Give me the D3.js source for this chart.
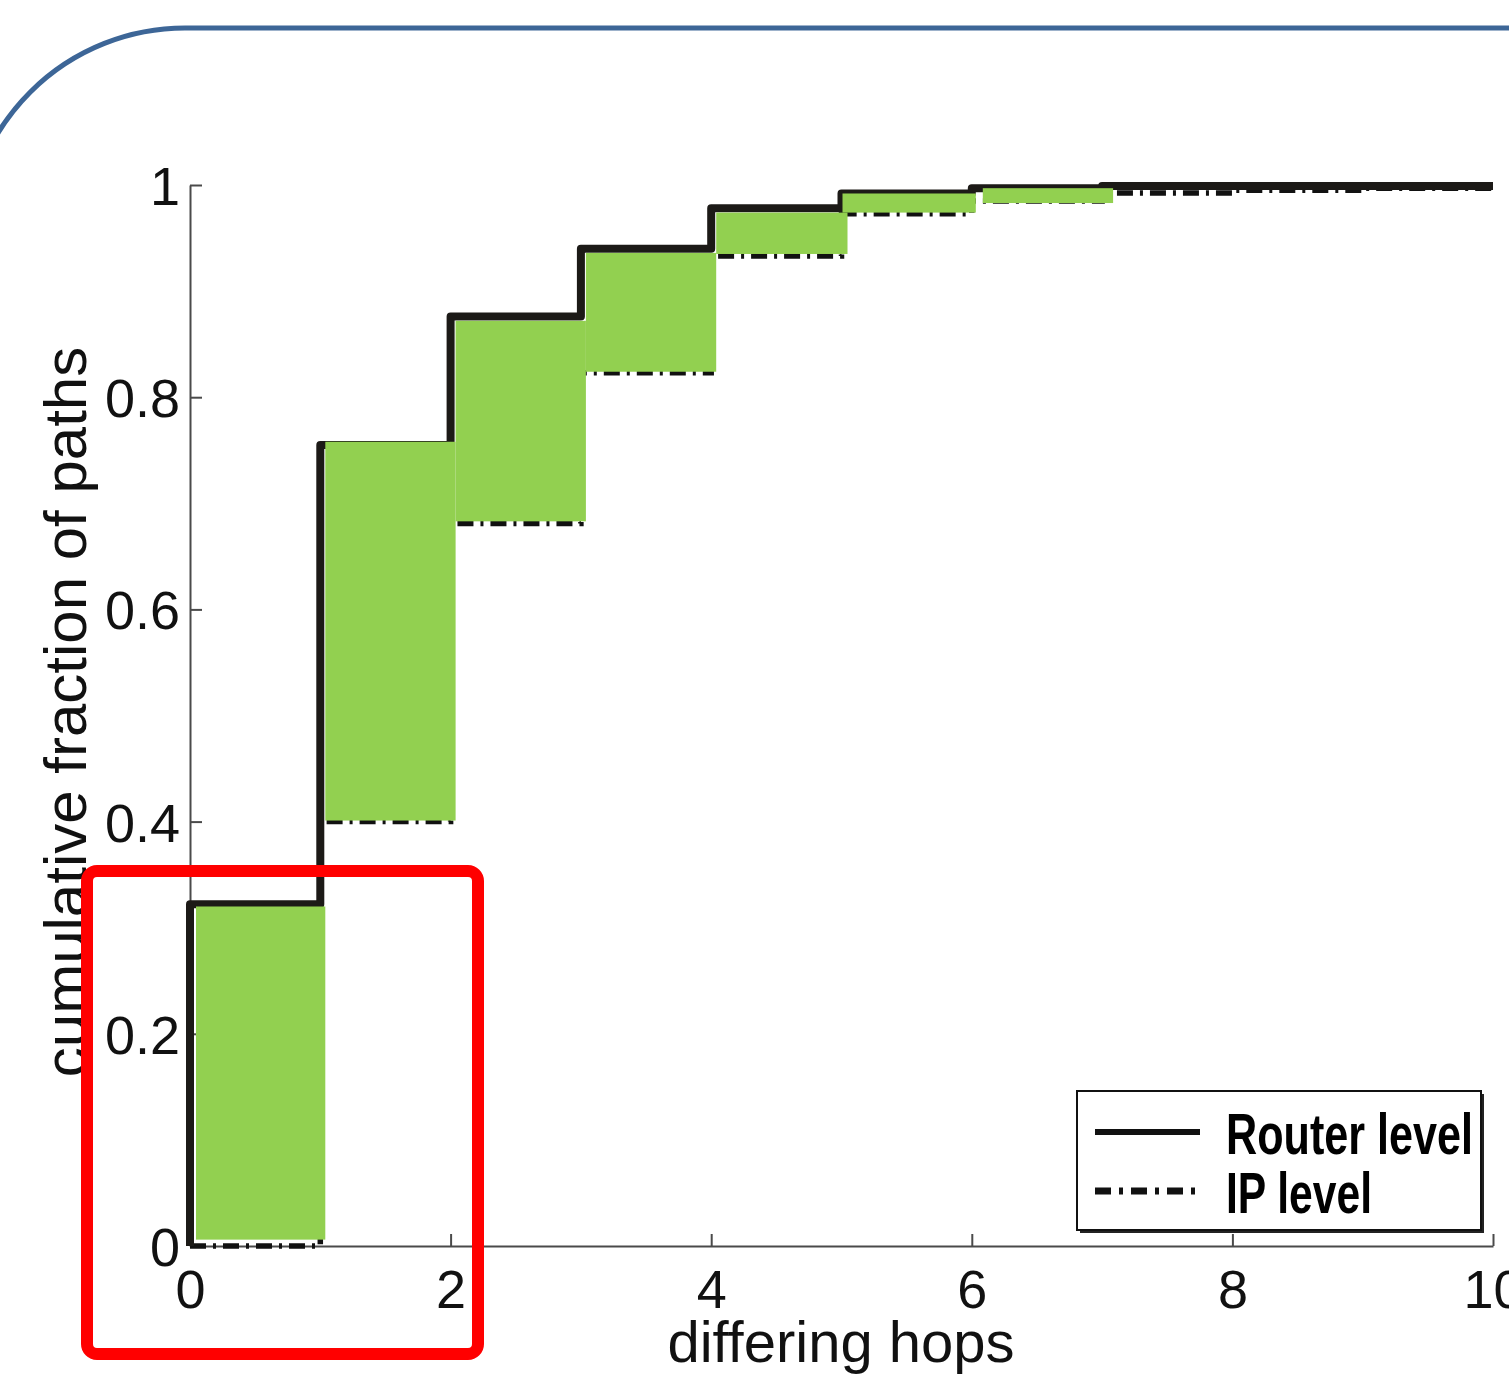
<!DOCTYPE html>
<html>
<head>
<meta charset="utf-8">
<script src="https://cdn.jsdelivr.net/npm/d3@7"></script>
<style>
  html, body { margin: 0; padding: 0; background: #fff; }
  svg { display: block; }
</style>
</head>
<body>
<svg id="chart" width="1509" height="1376"></svg>
<script>
// ---- data ----
const hopBins = [0, 1, 2, 3, 4, 5, 6, 7, 8, 9];            // bin start (differing hops)
const routerLevel = [0.322, 0.755, 0.876, 0.940, 0.978, 0.992, 0.997, 0.999, 0.999, 0.999];
const ipLevel     = [0.000, 0.400, 0.681, 0.823, 0.933, 0.973, 0.985, 0.9925, 0.995, 0.997];
// green highlight boxes (annotation): bin index, low, high
const highlightBins = [0, 1, 2, 3, 4, 5, 6];
const highlightLow  = [0.006, 0.401, 0.683, 0.824, 0.935, 0.974, 0.983];
const highlightHigh = [0.320, 0.758, 0.872, 0.936, 0.974, 0.992, 0.997];
const xTicks = [0, 2, 4, 6, 8, 10];
const xTickLabels = ["0", "2", "4", "6", "8", "10"];
const yTicks = [0, 0.2, 0.4, 0.6, 0.8, 1];
const yTickLabels = ["0", "0.2", "0.4", "0.6", "0.8", "1"];
const seriesNames = ["Router level", "IP level"];
const xLabel = "differing hops";
const yLabel = "cumulative fraction of paths";

// ---- layout ----
const svg = d3.select("#chart");
const x = d3.scaleLinear().domain([0, 10]).range([190, 1493]);
const y = d3.scaleLinear().domain([0, 1]).range([1246, 185]);
const FONT = "'Liberation Sans', Arial, Helvetica, sans-serif";

// slide frame (blue rounded border)
svg.append("path")
  .attr("d", "M -34 1400 L -34 247 A 219 219 0 0 1 185 28 L 1530 28")
  .attr("fill", "none").attr("stroke", "#3d6697").attr("stroke-width", 5);

// axes
const yAxis = d3.axisLeft(y).tickValues(yTicks)
  .tickFormat((d, i) => yTickLabels[i]).tickSizeInner(-12).tickSizeOuter(0).tickPadding(10);
const xAxis = d3.axisBottom(x).tickValues(xTicks)
  .tickFormat((d, i) => xTickLabels[i]).tickSizeInner(-12).tickSizeOuter(0).tickPadding(24);

const gy = svg.append("g").attr("transform", `translate(${x(0)},0)`).call(yAxis);
const gx = svg.append("g").attr("transform", `translate(0,${y(0)})`).call(xAxis);
[gx, gy].forEach(g => {
  g.select(".domain").attr("stroke", "#4a4a4a").attr("stroke-width", 2);
  g.selectAll(".tick line").attr("stroke", "#4a4a4a").attr("stroke-width", 2);
  g.selectAll(".tick text").attr("fill", "#111").style("font-family", FONT).style("font-size", "54px");
});
gy.selectAll(".tick text").attr("dy", "0.36em");

// step lines
function stepPoints(vals, startZero) {
  const pts = [];
  if (startZero) pts.push([0, 0]);
  hopBins.forEach((b, i) => { pts.push([b, vals[i]]); pts.push([b + 1, vals[i]]); });
  return pts;
}
const line = d3.line().x(d => x(d[0])).y(d => y(d[1]));

svg.append("path").datum(stepPoints(ipLevel, false))
  .attr("d", line).attr("fill", "none").attr("stroke", "#111")
  .attr("stroke-width", 5.5).attr("stroke-dasharray", "16,7,3,7");

svg.append("path").datum(stepPoints(routerLevel, true))
  .attr("d", line).attr("fill", "none").attr("stroke", "#1c1a17")
  .attr("stroke-width", 8).attr("stroke-linejoin", "round");

// green highlight boxes
const offs = [6, 5, 5, 5, 5, 1, 11];
const offe = [5, 5, 5, 5, 6, 4, 11];
svg.append("g").selectAll("rect").data(highlightBins).join("rect")
  .attr("x", (d, i) => x(d) + offs[i])
  .attr("width", (d, i) => x(d + 1) + offe[i] - x(d) - offs[i])
  .attr("y", (d, i) => y(highlightHigh[i]))
  .attr("height", (d, i) => y(highlightLow[i]) - y(highlightHigh[i]))
  .attr("fill", "#92d050");

// axis titles
svg.append("text").text(xLabel)
  .attr("x", 841).attr("y", 1362).attr("text-anchor", "middle")
  .style("font-family", FONT).style("font-size", "58px").attr("fill", "#111");
svg.append("text").text(yLabel)
  .attr("transform", "translate(86,712) rotate(-90)").attr("text-anchor", "middle")
  .style("font-family", FONT).style("font-size", "60px").attr("fill", "#111");

// legend
const lg = svg.append("g");
lg.append("rect").attr("x", 1080).attr("y", 1094).attr("width", 404).attr("height", 139)
  .attr("fill", "#222");
lg.append("rect").attr("x", 1077).attr("y", 1091).attr("width", 404).attr("height", 139)
  .attr("fill", "#fff").attr("stroke", "#111").attr("stroke-width", 2);
const legendY = [1132, 1191];
lg.append("line").attr("x1", 1095).attr("x2", 1200).attr("y1", legendY[0]).attr("y2", legendY[0])
  .attr("stroke", "#111").attr("stroke-width", 6);
lg.append("line").attr("x1", 1095).attr("x2", 1200).attr("y1", legendY[1]).attr("y2", legendY[1])
  .attr("stroke", "#111").attr("stroke-width", 7).attr("stroke-dasharray", "16,8,4,8");
const legendW = [247, 146];
seriesNames.forEach((n, i) => {
  lg.append("text").text(n)
    .attr("x", 1226).attr("y", legendY[i] + 22)
    .attr("textLength", legendW[i]).attr("lengthAdjust", "spacingAndGlyphs")
    .style("font-family", FONT).style("font-size", "58px").style("font-weight", "bold")
    .attr("fill", "#000");
});

// red annotation box
svg.append("rect").attr("x", 87).attr("y", 871).attr("width", 391).attr("height", 483)
  .attr("rx", 10).attr("ry", 10)
  .attr("fill", "none").attr("stroke", "#ff0000").attr("stroke-width", 12);
</script>
</body>
</html>
